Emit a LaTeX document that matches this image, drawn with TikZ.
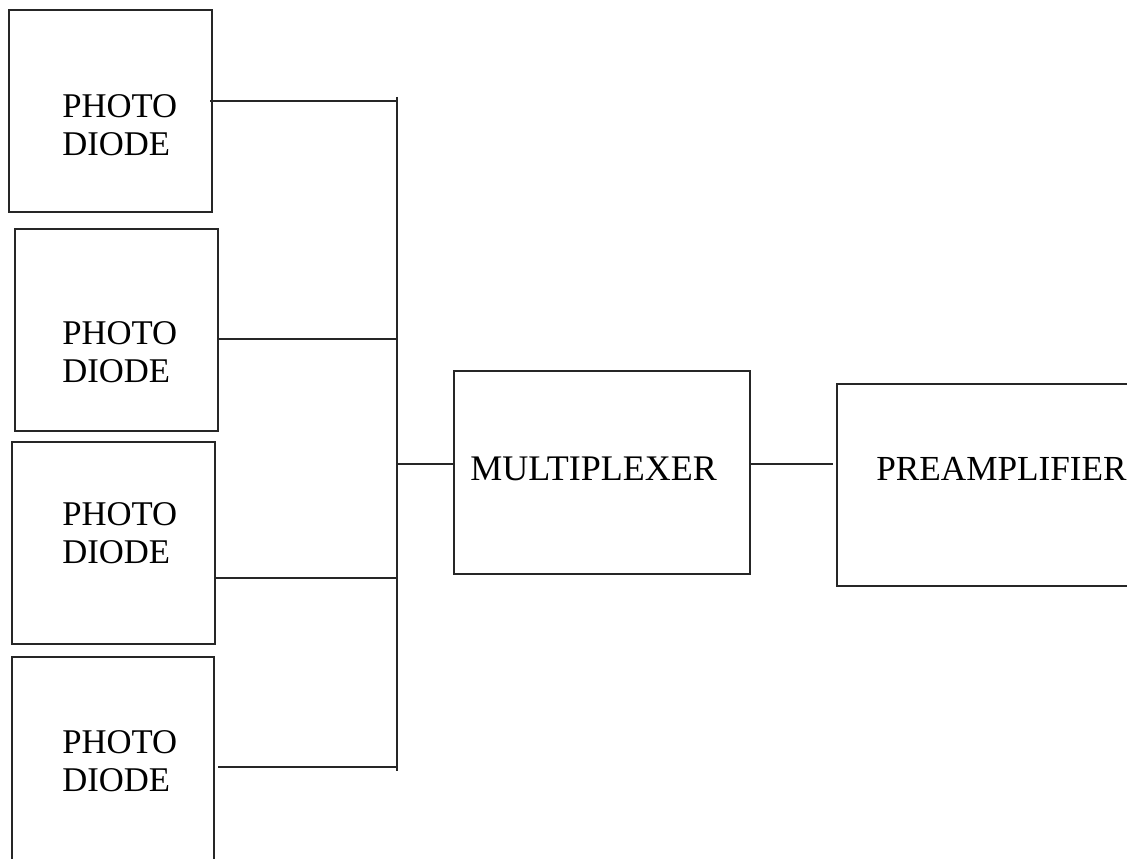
\documentclass[tikz,border=0pt]{standalone}
\usepackage{fontspec}
\setmainfont{Liberation Serif}
\begin{document}
\begin{tikzpicture}[x=0.75pt,y=-0.75pt,
  box/.style 2 args={draw=black!85, line width=1.5pt, rectangle, inner sep=0pt,
    minimum width=#1*0.75pt, minimum height=#2*0.75pt},
  lbl/.style={anchor=west, inner sep=0pt, align=left,
    font=\fontsize{26}{28.5}\selectfont},
  biglbl/.style={lbl, font=\fontsize{27}{28.5}\selectfont},
  prelbl/.style={lbl, font=\fontsize{26.4}{28.5}\selectfont},
  wire/.style={draw=black!85, line width=1pt}]
\path[use as bounding box, clip] (0,0) rectangle (1127,859);
\fill[white] (0,0) rectangle (1127,859);
% boxes
\node[box={203}{202}] (b1) at (110.5,111) {};
\node[box={203}{202}] (b2) at (116.5,330) {};
\node[box={203}{202}] (b3) at (113.5,543) {};
\node[box={202}{220}] (b4) at (113,767) {};
\node[box={296}{203}] (mux) at (602,472.5) {};
\node[box={310}{202}] (pre) at (992,485) {};
% labels
\node[lbl] (t1) at (62,125) {PHOTO\\DIODE};
\node[lbl] (t2) at (62,352) {PHOTO\\DIODE};
\node[lbl] (t3) at (62,533) {PHOTO\\DIODE};
\node[lbl] (t4) at (62,761) {PHOTO\\DIODE};
\node[biglbl] (tm) at (470,469) {MULTIPLEXER};
\node[prelbl] (tp) at (876,469) {PREAMPLIFIER};
% bus coordinates
\coordinate (top) at (397,97);
\coordinate (bot) at (397,771);
\coordinate (j1) at (397,101);
\coordinate (j2) at (397,339);
\coordinate (j3) at (397,578);
\coordinate (j4) at (397,767);
\coordinate (jm) at (397,464);
\coordinate (s1) at (210,101);
\coordinate (s4) at (218,767);
\coordinate (pe) at (833,464);
% connectors
\draw[wire] (top) -- (bot);
\draw[wire] (s1) -- (j1);
\draw[wire] (b2.east |- j2) -- (j2);
\draw[wire] (b3.east |- j3) -- (j3);
\draw[wire] (s4) -- (j4);
\draw[wire] (jm) -- (mux.west |- jm);
\draw[wire] (mux.east |- pe) -- (pe);
\end{tikzpicture}
\end{document}
